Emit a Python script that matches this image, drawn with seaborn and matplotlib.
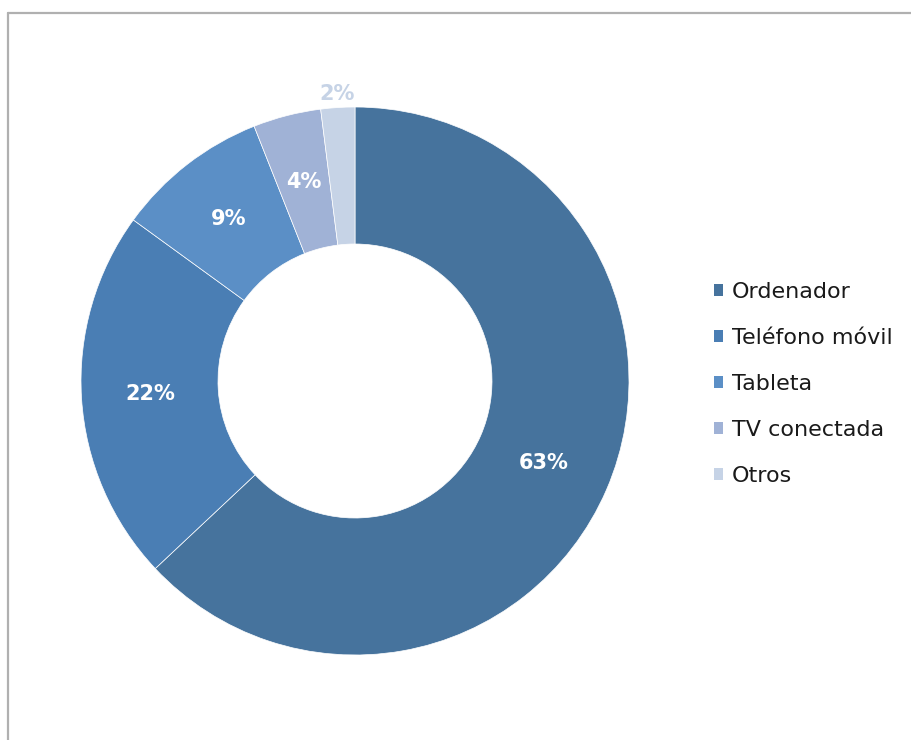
import matplotlib
matplotlib.use("Agg")
import matplotlib.pyplot as plt
from matplotlib.lines import Line2D
from matplotlib.patches import Patch
import numpy as np
import seaborn as sns

# Device share data
categories = ["Ordenador", "Teléfono móvil", "Tableta", "TV conectada", "Otros"]
values = [63, 22, 9, 4, 2]
colors = ["#46739d", "#4a7eb4", "#5b8fc6", "#a0b2d6", "#c6d3e6"]

sns.set_theme(style="white")
plt.rcParams["font.family"] = ["DejaVu Sans"]

fig = plt.figure(figsize=(9.11, 7.40), dpi=100)
ax = fig.add_axes([81 / 911, 85 / 740, 548 / 911, 548 / 740])

palette = sns.color_palette(colors)
wedges, texts = ax.pie(
    values,
    colors=palette,
    startangle=90,
    counterclock=False,
    radius=1.0,
    wedgeprops=dict(width=0.5, edgecolor="white", linewidth=0.5),
)
ax.set_xlim(-1, 1)
ax.set_ylim(-1, 1)
ax.set_aspect("equal")
ax.axis("off")

# Percentage labels in the middle of the ring; the smallest sits outside
for w, v, c in zip(wedges, values, colors):
    mid = np.deg2rad((w.theta1 + w.theta2) / 2)
    if v < 3:
        r, col = 1.05, c
    else:
        r, col = 0.75, "white"
    ax.text(r * np.cos(mid), r * np.sin(mid), f"{v}%", ha="center", va="center",
            color=col, fontsize=15, fontweight="bold")

handles = [Patch(facecolor=c, edgecolor="none") for c in colors]
fig.legend(handles, categories, loc="center left", bbox_to_anchor=(714 / 911, 1 - 384 / 740),
           frameon=False, fontsize=16, handlelength=0.42, handleheight=0.42,
           handletextpad=0.4, labelspacing=1.17, borderaxespad=0, borderpad=0,
           labelcolor="#1a1a1a")

# Outer border of the chart area
fig.add_artist(Line2D([8 / 911, 8 / 911], [0, 1 - 13 / 740], transform=fig.transFigure,
                      color="#b0b0b0", linewidth=1.6))
fig.add_artist(Line2D([8 / 911, 1], [1 - 13 / 740, 1 - 13 / 740], transform=fig.transFigure,
                      color="#b0b0b0", linewidth=1.6))

fig.savefig("out.png", dpi=100)
